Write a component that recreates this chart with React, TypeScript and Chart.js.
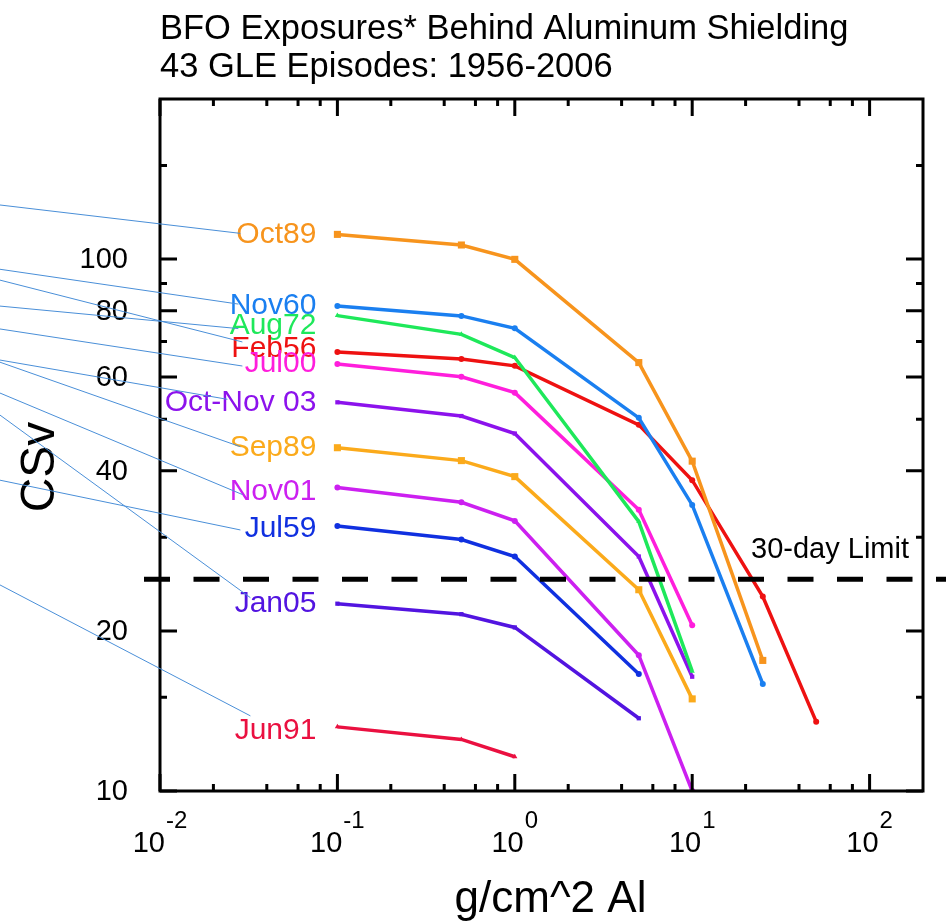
import React, { useEffect, useRef } from 'react';
import { Chart, registerables } from 'chart.js';

Chart.register(...registerables);

// ---- data ----
const shielding = [0.1, 0.5, 1, 5, 10, 25, 50]; // g/cm^2 Al

const seriesNames = ['Oct89', 'Nov60', 'Aug72', 'Feb56', 'Jul00', 'Oct-Nov 03', 'Sep89', 'Nov01', 'Jul59', 'Jan05', 'Jun91'];
const oct89 = [111.3, 106.3, 99.9, 63.9, 41.7, 17.6];
const nov60 = [81.6, 78.2, 74.1, 50.3, 34.5, 15.9];
const aug72 = [78.3, 72.2, 65.3, 32.1, 16.8];
const feb56 = [66.9, 64.9, 63.0, 48.8, 38.4, 23.2, 13.5];
const jul00 = [63.5, 60.1, 56.1, 33.8, 20.5];
const octNov03 = [53.8, 50.7, 47.0, 27.6, 16.4];
const sep89 = [44.2, 41.8, 39.0, 23.9, 14.9];
const nov01 = [37.2, 34.9, 32.2, 18.0, 10.0];
const jul59 = [31.5, 29.7, 27.6, 16.6];
const jan05 = [22.5, 21.5, 20.3, 13.7];
const jun91 = [13.2, 12.5, 11.6];
const seriesValues = [oct89, nov60, aug72, feb56, jul00, octNov03, sep89, nov01, jul59, jan05, jun91];

const limit30Day = 25; // CSv
const limitLabel = '30-day Limit';

const yTickLabels = [10, 20, 40, 60, 80, 100];
const yMinorTicks = [15, 30, 50, 70, 90, 150];
const xDecades = [-2, -1, 0, 1, 2];
const xMinorMultipliers = [2, 4, 6, 8];

// CSv value where each annotation leader line enters from the left page edge
const leaderSources = [126.4, 95.7, 81.6, 91.3, 73.9, 64.6, 64.0, 56.0, 38.4, 50.9, 24.4];

const titleLines = ['BFO Exposures* Behind Aluminum Shielding', '43 GLE Episodes: 1956-2006'];
const xTitle = 'g/cm^2 Al';
const yTitle = 'CSv';

// ---- styles ----
const colors = ['#f7941d', '#1a7ff0', '#1ee85a', '#ee1111', '#ff1edc', '#8c12ec', '#fbaa1b', '#cc20f0', '#1030e0', '#5214e0', '#ea1040'];
const pointStyles = ['rect', 'circle', 'triangle', 'circle', 'circle', 'rect', 'rect', 'circle', 'circle', 'rect', 'triangle'];
const pointRadii = [5, 3, 3, 3, 3, 3, 5, 3, 3, 3, 3];
const labelNudges = [0, 0, 10, -3, 0, 0, 0, 4, 3, 0, 4];
const leaderEnds = [
  [-76, -1], [-78, -2], [-78, 3], [-74, -7], [-74, 2], [-89, -3],
  [-76, -1], [-74, 3], [-76, 1], [-66, -6], [-66, -15],
];

const FONT = '"Liberation Sans", Arial, Helvetica, sans-serif';

const decoPlugin = {
  id: 'deco',
  beforeDraw(chart: any) {
    const ctx = chart.ctx;
    ctx.save();
    ctx.fillStyle = '#ffffff';
    ctx.fillRect(0, 0, chart.width, chart.height);
    ctx.restore();
  },
  afterDatasetsDraw(chart: any) {
    const ctx: CanvasRenderingContext2D = chart.ctx;
    const a = chart.chartArea;
    const xs = chart.scales.x;
    const ys = chart.scales.y;
    ctx.save();

    // 30-day limit dashed line
    const ly = ys.getPixelForValue(limit30Day);
    ctx.strokeStyle = '#000';
    ctx.lineWidth = 5;
    ctx.setLineDash([26, 23.5]);
    ctx.beginPath();
    ctx.moveTo(a.left - 16, ly);
    ctx.lineTo(chart.width, ly);
    ctx.stroke();
    ctx.setLineDash([]);
    ctx.fillStyle = '#000';
    ctx.font = `29px ${FONT}`;
    ctx.textAlign = 'right';
    ctx.textBaseline = 'alphabetic';
    ctx.fillText(limitLabel, a.right - 14, ly - 21);

    // frame
    ctx.lineWidth = 3;
    ctx.strokeStyle = '#000';
    ctx.strokeRect(a.left, a.top, a.right - a.left, a.bottom - a.top);

    // ticks
    const LONG = 17, SHORT = 7;
    ctx.lineWidth = 3;
    const yTick = (v: number, len: number) => {
      const p = ys.getPixelForValue(v);
      ctx.beginPath();
      ctx.moveTo(a.left, p); ctx.lineTo(a.left + len, p);
      ctx.moveTo(a.right, p); ctx.lineTo(a.right - len, p);
      ctx.stroke();
    };
    const xTick = (v: number, len: number) => {
      const p = xs.getPixelForValue(v);
      ctx.beginPath();
      ctx.moveTo(p, a.bottom); ctx.lineTo(p, a.bottom - len);
      ctx.moveTo(p, a.top); ctx.lineTo(p, a.top + len);
      ctx.stroke();
    };
    yTickLabels.forEach((v) => yTick(v, LONG));
    yMinorTicks.forEach((v) => yTick(v, SHORT));
    xDecades.forEach((d) => {
      xTick(Math.pow(10, d), LONG);
      xMinorMultipliers.forEach((m) => {
        const v = m * Math.pow(10, d);
        if (v < xs.max) xTick(v, SHORT);
      });
    });

    // y tick labels
    ctx.fillStyle = '#000';
    ctx.font = `29px ${FONT}`;
    ctx.textAlign = 'right';
    ctx.textBaseline = 'middle';
    yTickLabels.forEach((v) => {
      ctx.fillText(String(v), a.left - 32, ys.getPixelForValue(v) + 1);
    });

    // x tick labels 10^n
    ctx.textBaseline = 'alphabetic';
    ctx.textAlign = 'left';
    xDecades.forEach((d) => {
      const p = xs.getPixelForValue(Math.pow(10, d));
      ctx.font = `29px ${FONT}`;
      const wb = ctx.measureText('10').width;
      ctx.font = `24px ${FONT}`;
      const exp = String(d);
      const we = ctx.measureText(exp).width;
      const start = p - (wb + we + 1) / 2;
      ctx.font = `29px ${FONT}`;
      ctx.fillText('10', start, a.bottom + 61);
      ctx.font = `24px ${FONT}`;
      ctx.fillText(exp, start + wb + 1, a.bottom + 37);
    });

    // axis titles
    ctx.font = `44px ${FONT}`;
    ctx.textAlign = 'center';
    ctx.fillText(xTitle, (a.left + a.right) / 2 + 9, a.bottom + 121);
    ctx.save();
    ctx.translate(41, (a.top + a.bottom) / 2 + 22);
    ctx.rotate(-Math.PI / 2);
    ctx.font = `48px ${FONT}`;
    ctx.textBaseline = 'middle';
    ctx.fillText(yTitle, 0, 0);
    ctx.restore();

    // chart title
    ctx.font = `34.5px ${FONT}`;
    ctx.textAlign = 'left';
    ctx.textBaseline = 'alphabetic';
    titleLines.forEach((t, i) => ctx.fillText(t, a.left, 39 + i * 38));

    // series labels & leader lines
    ctx.font = `30px ${FONT}`;
    ctx.textAlign = 'right';
    ctx.textBaseline = 'middle';
    seriesNames.forEach((name, i) => {
      const px = xs.getPixelForValue(shielding[0]) - 21;
      const py = ys.getPixelForValue(seriesValues[i][0]) + labelNudges[i];
      ctx.fillStyle = colors[i];
      ctx.fillText(name, px, py);
    });
    ctx.strokeStyle = '#4a8fd8';
    ctx.lineWidth = 1;
    seriesNames.forEach((_, i) => {
      const px = xs.getPixelForValue(shielding[0]) - 21;
      const py = ys.getPixelForValue(seriesValues[i][0]) + labelNudges[i];
      const sy = ys.getPixelForValue(leaderSources[i]);
      ctx.beginPath();
      ctx.moveTo(0, sy);
      ctx.lineTo(px + leaderEnds[i][0], py + leaderEnds[i][1]);
      ctx.stroke();
    });

    ctx.restore();
  },
};

export default function App() {
  const ref = useRef<HTMLCanvasElement | null>(null);
  useEffect(() => {
    if (!ref.current) return;
    const datasets = seriesNames.map((name, i) => ({
      label: name,
      data: seriesValues[i].map((v, j) => ({ x: shielding[j], y: v })),
      borderColor: colors[i],
      backgroundColor: colors[i],
      borderWidth: 3.5,
      pointStyle: pointStyles[i] as any,
      pointRadius: pointRadii[i],
      pointBorderWidth: 0,
      tension: 0,
      fill: false,
    }));
    const chart = new Chart(ref.current, {
      type: 'line',
      data: { datasets },
      options: {
        responsive: false,
        animation: false,
        devicePixelRatio: 1,
        layout: { padding: { left: 160, top: 99, right: 23, bottom: 133 } },
        plugins: { legend: { display: false }, tooltip: { enabled: false }, title: { display: false } },
        scales: {
          x: { type: 'logarithmic', min: 0.01, max: 200, display: false },
          y: { type: 'logarithmic', min: 10, max: 200, display: false },
        },
      },
      plugins: [decoPlugin],
    });
    return () => chart.destroy();
  }, []);
  return (
    <div style={{ position: 'absolute', left: 0, top: 0, width: 946, height: 924 }}>
      <canvas ref={ref} width={946} height={924} style={{ width: 946, height: 924, display: 'block' }} />
    </div>
  );
}
